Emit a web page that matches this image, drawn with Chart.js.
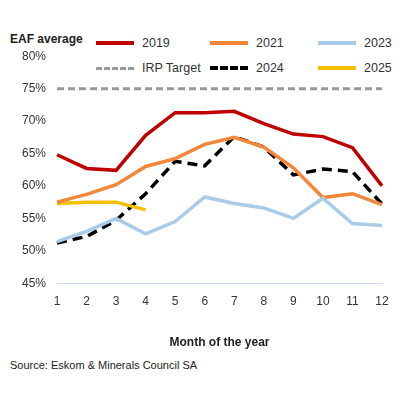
<!DOCTYPE html><html><head><script src="https://cdn.jsdelivr.net/npm/chart.js"></script>
<style>body{margin:0;width:400px;height:400px;background:#fff;font-family:Arial,"Liberation Sans",sans-serif;position:relative;overflow:hidden}
#t{position:absolute;left:10px;top:32px;font-size:12px;font-weight:bold;color:#222}
#s{position:absolute;left:10px;top:359px;font-size:11px;color:#222}
#c{position:absolute;left:0;top:46px;width:400px;height:308px}
.lg{position:absolute;font-size:12.5px;color:#333;display:flex;align-items:center}
.lg span{display:inline-block;width:38px;height:0;margin-right:8px}
</style></head><body>
<div id="t">EAF average</div>
<div class="lg" style="left:96px;top:36px"><span style="border-top:4px solid #c00000"></span>2019</div>
<div class="lg" style="left:210px;top:36px"><span style="border-top:4px solid #f4863a"></span>2021</div>
<div class="lg" style="left:318px;top:36px"><span style="border-top:4px solid #a9cbe8"></span>2023</div>
<div class="lg" style="left:96px;top:61px"><span style="border-top:3px dashed #999"></span>IRP Target</div>
<div class="lg" style="left:210px;top:61px"><span style="border-top:4px dashed #000"></span>2024</div>
<div class="lg" style="left:318px;top:61px"><span style="border-top:4px solid #f5c000"></span>2025</div>
<div id="c"><canvas id="cv" width="400" height="308"></canvas></div>
<div id="s">Source: Eskom &amp; Minerals Council SA</div>
<script>
const months=["1","2","3","4","5","6","7","8","9","10","11","12"];
const y2019=[64.8,62.7,62.4,67.8,71.3,71.3,71.5,69.6,68.0,67.6,65.9,60.0];
const y2021=[57.5,58.7,60.2,63.0,64.2,66.4,67.5,66.0,62.8,58.2,58.8,57.1];
const y2023=[51.4,53.0,55.0,52.6,54.5,58.3,57.3,56.6,55.0,58.1,54.2,53.9];
const y2024=[51.2,52.2,54.7,58.8,63.8,63.1,67.6,66.0,61.7,62.6,62.2,57.2];
const y2025=[57.3,57.5,57.5,56.3];
const irp=[75,75,75,75,75,75,75,75,75,75,75,75];
const ds=(d,c,w,dash)=>({data:d,borderColor:c,borderWidth:w,borderDash:dash||[],pointRadius:0,tension:0,fill:false});
new Chart(document.getElementById('cv'),{type:'line',data:{labels:months,datasets:[
ds(irp,'#999',3,[7,4]),ds(y2023,'#a9cbe8',3.5),ds(y2021,'#f4863a',3.5),ds(y2025,'#f5c000',3.5),ds(y2024,'#000',3.5,[10,6]),ds(y2019,'#c00000',3.5)]},
options:{responsive:false,animation:false,layout:{padding:{left:0,right:18,top:2}},plugins:{legend:{display:false},tooltip:{enabled:false}},
scales:{y:{min:45,max:80,afterFit:s=>{s.width=57},ticks:{stepSize:5,callback:v=>v+'%',color:'#333',font:{size:12}},grid:{display:false},border:{display:false}},
x:{offset:false,grid:{display:false},border:{color:'#c5d9ee'},ticks:{color:'#333',font:{size:12}},title:{display:true,text:'Month of the year',color:'#222',padding:{top:24},font:{size:12,weight:'bold'}}}}}});
</script></body></html>
